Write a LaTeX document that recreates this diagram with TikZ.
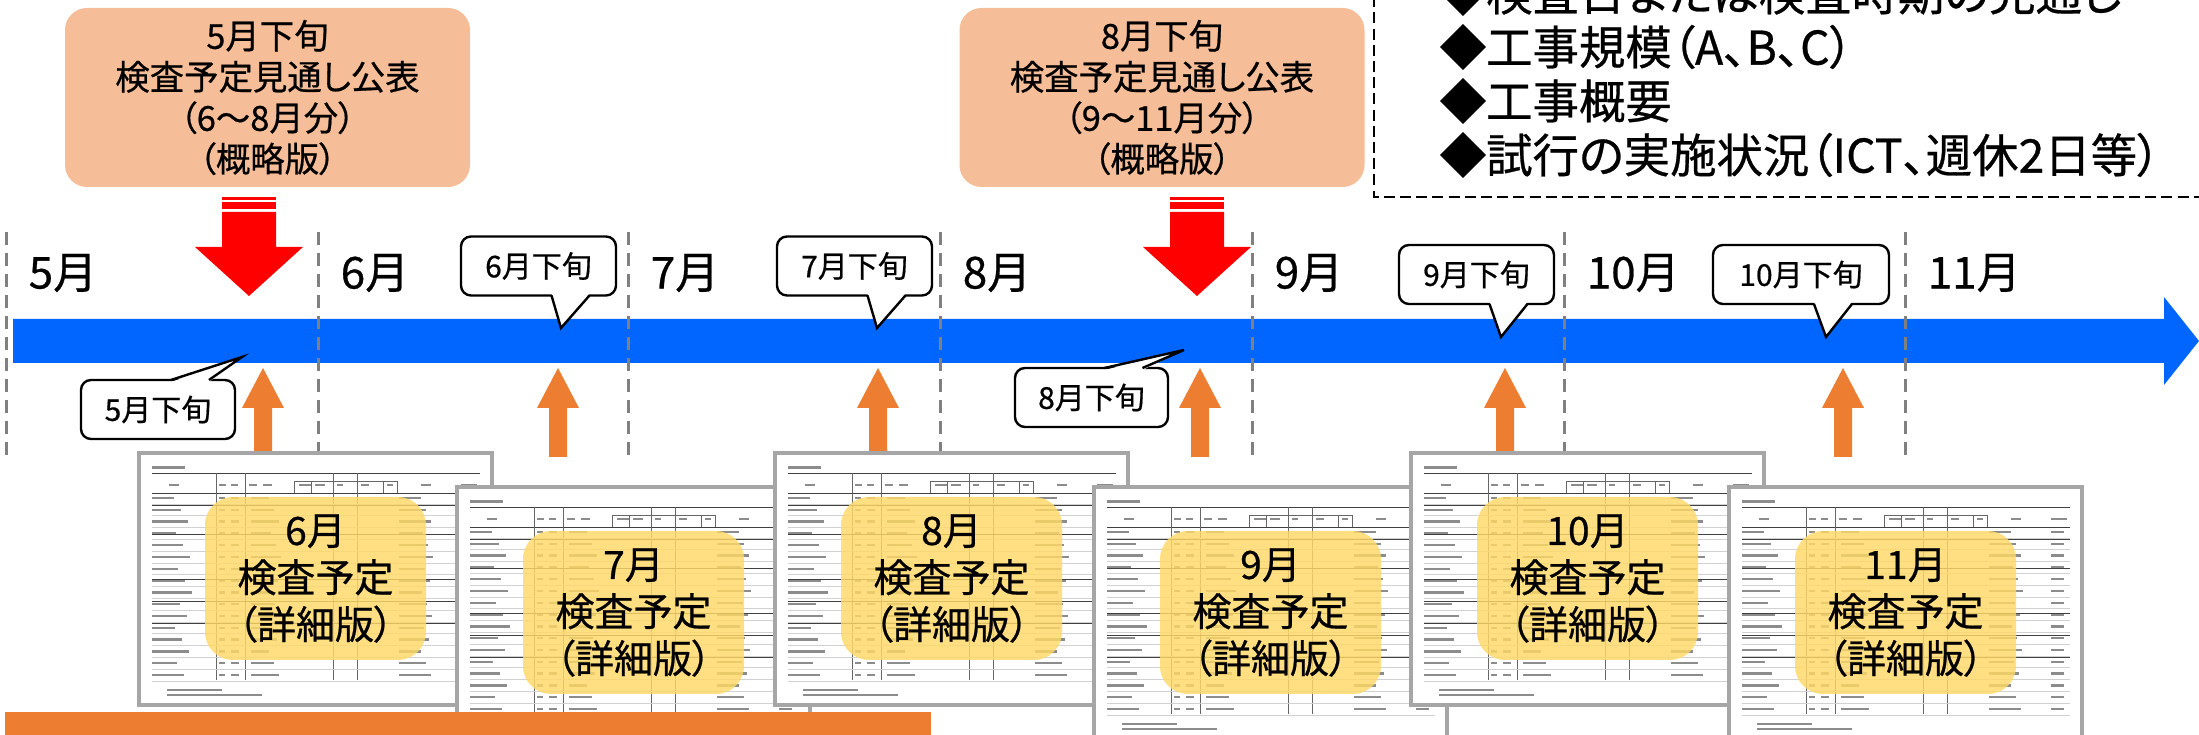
\documentclass[tikz,border=0pt]{standalone}
\usepackage{fontspec}
\setmainfont{Noto Sans CJK JP}[RawFeature=+palt, FakeBold=0.6]
\usetikzlibrary{calc}

\definecolor{barblue}{RGB}{0,102,255}
\definecolor{peach}{RGB}{245,189,152}
\definecolor{planyellow}{RGB}{255,217,102}
\definecolor{uporange}{RGB}{237,125,49}
\definecolor{sheetgray}{RGB}{166,166,166}
\definecolor{monthgray}{RGB}{128,128,128}
\colorlet{inkgray}{black!45}

% scanned schedule sheet: name, top left corner, month
\newcommand{\schedsheet}[3]{%
\node[sheet] (#1) at #2 {};
\begin{scope}[shift={(#1.north west)}]
  \fill[inkgray] (13,13) rectangle (46,16.5);
  \draw[rule] (13,20) -- (341,20);
  \draw[rule] (13,40) -- (341,40);
  \draw[thinrule] (155,28) -- (258,28);
  \foreach \cx in {77,106,194,218}
    \draw[thinrule] (\cx,20) -- (\cx,227);
  \foreach \cx in {155,172,244,258}
    \draw[thinrule] (\cx,28) -- (\cx,40);
  \foreach \hx/\hw in {30/10,80/7,92/7,110/8,124/9,160/12,176/10,198/6,222/8,248/6,282/10,322/16}
    \fill[inkgray] (\hx,31) rectangle ++(\hw,2.5);
  \foreach \row in {0,...,15} {
    \pgfmathsetmacro{\ry}{45+11.8*\row}
    \pgfmathsetmacro{\wa}{22+mod(7*\row,19)}
    \pgfmathsetmacro{\wb}{8+mod(5*\row,13)}
    \draw[faintrule] (13,\ry+5.9) -- (341,\ry+5.9);
    \fill[inkgray] (13,\ry-1.2) rectangle ++(\wa,2.4);
    \fill[inkgray] (80,\ry-1.2) rectangle ++(6,2.4);
    \fill[inkgray] (92,\ry-1.2) rectangle ++(8,2.4);
    \fill[inkgray] (112,\ry-1.2) rectangle ++(\wb+10,2.4);
    \fill[inkgray] (260,\ry-1.2) rectangle ++(\wb+14,2.4);
    \fill[inkgray] (322,\ry-1.2) rectangle ++(13,2.4);
  }
  \foreach \ry in {52,81,126,148,170}
    \draw[rule] (13,\ry) -- (341,\ry);
  \fill[inkgray] (28,236) rectangle ++(55,2.4);
  \fill[inkgray] (28,241) rectangle ++(95,2.4);
  \node[plan] (#1plan) at (176.5,125.5) {#3\\検査予定\\（詳細版）};
\end{scope}
}

\begin{document}
\begin{tikzpicture}[x=0.25pt,y=-0.25pt,
  peachbox/.style={fill=peach, rounded corners=5.5pt, minimum width=101.25pt, minimum height=44.75pt, inner sep=0pt, align=center, font=\fontsize{8.6pt}{10.25pt}\selectfont},
  callbox/.style={draw, fill=white, line width=0.6pt, rounded corners=2.5pt, minimum height=14.75pt, inner sep=0pt, outer sep=0pt, font=\fontsize{7.5pt}{9pt}\selectfont},
  monthline/.style={monthgray, line width=0.75pt, dash pattern=on 3.25pt off 2pt},
  monthlabel/.style={anchor=west, inner sep=0pt, font=\fontsize{11pt}{12pt}\selectfont},
  sheet/.style={draw=sheetgray, line width=0.9pt, fill=white, minimum width=88.25pt, minimum height=63pt, anchor=north west, inner sep=0pt, outer sep=0pt},
  plan/.style={fill=planyellow, fill opacity=0.82, text opacity=1, rounded corners=7pt, minimum width=55.25pt, minimum height=40.75pt, inner sep=0pt, align=center, font=\fontsize{9.75pt}{11.75pt}\selectfont},
  rule/.style={black!75, line width=0.22pt},
  thinrule/.style={black!60, line width=0.15pt},
  faintrule/.style={black!18, line width=0.12pt},
  pointframe/.style={draw, line width=0.65pt, dash pattern=on 2.75pt off 1.3pt},
  pointlist/.style={anchor=west, inner sep=0pt, align=left, font=\fontsize{11.6pt}{13.5pt}\selectfont}]
\useasboundingbox (0,0) rectangle (2199,735);
\clip (0,0) rectangle (2199,735);

% outlook announcements
\node[peachbox] (mayplan) at (267.5,97.5) {5月下旬\\検査予定見通し公表\\（6〜8月分）\\（概略版）};
\node[peachbox] (augplan) at (1162,97.5) {8月下旬\\検査予定見通し公表\\（9〜11月分）\\（概略版）};

% published items
\draw[pointframe] (1374,-20) rectangle (2230,197);
\node[pointlist] (points) at (1439,74) {◆検査日または検査時期の見通し\\◆工事規模（A、B、C）\\◆工事概要\\◆試行の実施状況（ICT、週休2日等）};

% red arrows
\foreach \rx [count=\i] in {249,1197} {
  \coordinate (redtop\i) at (\rx,212);
  \coordinate (redtip\i) at (\rx,296);
  \fill[red] ($(redtop\i)+(-27,-14.5)$) rectangle ($(redtop\i)+(27,-12)$);
  \fill[red] ($(redtop\i)+(-27,-9.5)$) rectangle ($(redtop\i)+(27,-3)$);
  \fill[red] ($(redtop\i)+(-27,0)$) -- ($(redtip\i)+(-27,-49)$) -- ($(redtip\i)+(-54,-49)$) -- (redtip\i)
    -- ($(redtip\i)+(54,-49)$) -- ($(redtip\i)+(27,-49)$) -- ($(redtop\i)+(27,0)$) -- cycle;
}

% time line
\coordinate (tlstart) at (13,341);
\coordinate (tlend) at (2199,341);
\fill[barblue] ($(tlstart)+(0,-22)$) -- ($(tlend)+(-35,-22)$) -- ($(tlend)+(-35,-44)$) -- (tlend)
  -- ($(tlend)+(-35,44)$) -- ($(tlend)+(-35,22)$) -- ($(tlstart)+(0,22)$) -- cycle;

\foreach \mx/\m in {6/5,318/6,628/7,940/8,1252/9,1564/10,1905/11} {
  \draw[monthline] (\mx,232) -- (\mx,455);
  \node[monthlabel] (month\m) at (\mx+22,273) {\m{}月};
}

% callouts
\foreach \n/\cx/\cy/\w/\side/\dy/\tx/\ty in {5/158/409.5/38.5pt/north/2/242/357,
    6/538.5/266/38.75pt/south/-2/561/328,
    7/854.5/266/38.75pt/south/-2/877/328,
    8/1091.5/397.5/38.25pt/north/2/1184/350,
    9/1476.5/274.5/38.75pt/south/-2/1501/337,
    10/1801/274.5/44pt/south/-2/1826/337} {
  \node[callbox, minimum width=\w] (call\n) at (\cx,\cy) {\n{}月下旬};
  \coordinate (tip\n) at (\tx,\ty);
  \fill[white] ($(call\n.\side)+(13,\dy)$) -- (tip\n) -- ($(call\n.\side)+(51,\dy)$) -- cycle;
  \draw[line width=0.6pt] ($(call\n.\side)+(13,0)$) -- (tip\n) -- ($(call\n.\side)+(51,0)$);
}

% orange arrows
\foreach \ax [count=\i] in {263,558,878,1200,1505,1843} {
  \coordinate (upfoot\i) at (\ax,457);
  \coordinate (uptip\i) at (\ax,368);
  \fill[uporange] ($(upfoot\i)+(-9,0)$) -- ($(uptip\i)+(-9,40)$) -- ($(uptip\i)+(-21,40)$) -- (uptip\i)
    -- ($(uptip\i)+(21,40)$) -- ($(uptip\i)+(9,40)$) -- ($(upfoot\i)+(9,0)$) -- cycle;
}

% detailed schedules
\foreach \sx/\sy/\m in {139/453/6,457/487/7,775/453/8,1094/487/9,1411/453/10,1729/487/11}
  \schedsheet{sheet\m}{(\sx,\sy)}{\m{}月};

\fill[uporange] (5,712) rectangle (931,745);
\end{tikzpicture}
\end{document}
